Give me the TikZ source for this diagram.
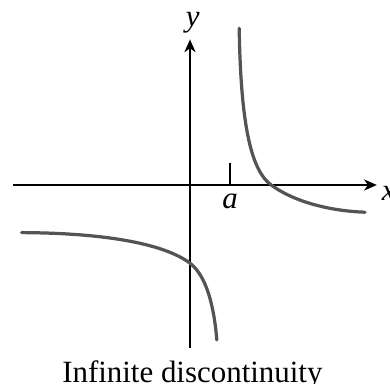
\documentclass[tikz,border=0pt]{standalone}
\usepackage{fontspec}
\setmainfont{Liberation Serif}
\usepackage{xcolor}
\usepackage{tikz}
\usetikzlibrary{arrows.meta}
\usetikzlibrary{calc,positioning}

\definecolor{curvegray}{gray}{0.33}

\begin{document}
\begin{tikzpicture}[x=1cm,y=1cm,
    axis/.style={line width=1.4pt, -{Stealth[length=0.32cm,width=0.28cm,inset=0.1cm]}},
    branch/.style={line width=2.3pt, curvegray, line cap=round},
    lbl/.style={font=\fontsize{22}{26}\selectfont\itshape, inner sep=0pt}]

    \useasboundingbox (-4.75,-4.95) rectangle (5.0,4.625);

    % Assen
    \coordinate (xstart) at (-4.425,0);
    \coordinate (xtip) at (4.67,0);
    \coordinate (ystart) at (0,-4.075);
    \coordinate (ytip) at (0,3.64);
    \draw[axis] (xstart) -- (xtip);
    \draw[axis] (ystart) -- (ytip);

    % Labels
    \node[lbl, anchor=base west] (xlab) at (4.79,-0.375) {x};
    \node[lbl, anchor=base] (ylab) at (0.07,3.97) {y};

    % Tick bij a
    \coordinate (abase) at (1.01,0);
    \coordinate (atop) at (1.01,0.56);
    \draw[line width=1.4pt] (abase) -- (atop);
    \node[lbl, anchor=base] (alab) at (1.0,-0.58) {a};

    % Rechter tak
    \draw[branch] (1.23,3.92) .. controls (1.27,1.4) and (1.55,0.35) .. (2.03,0)
        .. controls (2.6,-0.42) and (3.5,-0.65) .. (4.375,-0.68);

    % Linker tak
    \draw[branch] (-4.21,-1.19) .. controls (-2,-1.2) and (-0.6,-1.5) .. (0,-1.955)
        .. controls (0.4,-2.26) and (0.6,-3) .. (0.67,-3.875);

    % Onderschrift
    \node[font=\fontsize{22}{26}\selectfont, anchor=base, inner sep=0pt] (caption) at (0.06,-4.925) {Infinite discontinuity};

\end{tikzpicture}
\end{document}
